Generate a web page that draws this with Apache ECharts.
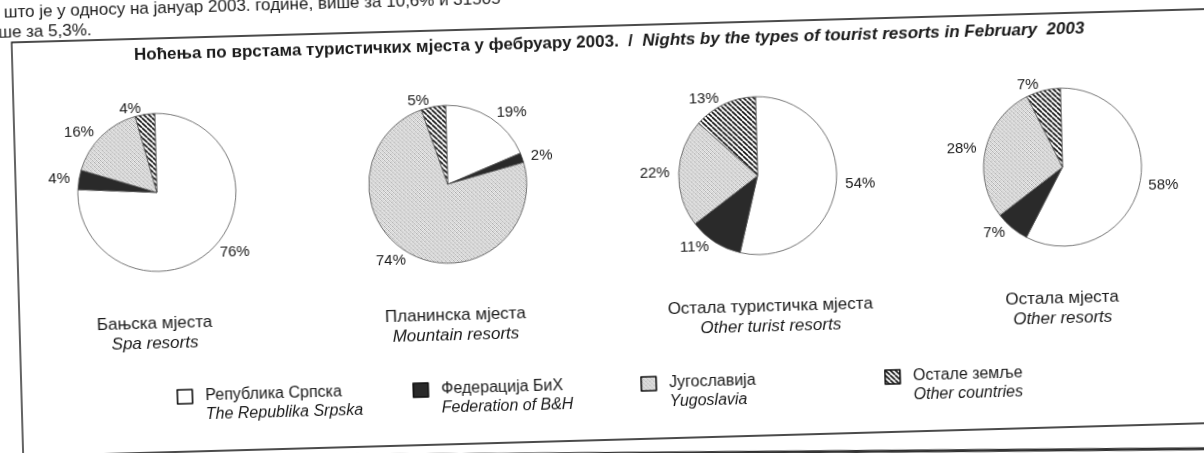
<!DOCTYPE html>
<html>
<head>
<meta charset="utf-8">
<title>Ноћења по врстама туристичких мјеста у фебруару 2003.</title>
<script src="https://cdn.jsdelivr.net/npm/echarts@6/dist/echarts.min.js"></script>
<style>
    html, body { margin: 0; padding: 0; background: #fff; overflow: hidden; width: 1204px; height: 453px; }
    /* the scanned page is slightly tilted, so the whole chart is turned a little */
    #main { position: absolute; left: -20px; top: -20px; width: 1244px; height: 493px; transform: rotate(-1.6deg); }
</style>
</head>
<body>
<div id="main"></div>
<script type="text/javascript">

    // resort types (one pie each)
    var resortsCyr = ['Бањска мјеста', 'Планинска мјеста', 'Остала туристичка мјеста', 'Остала мјеста'];
    var resortsEng = ['Spa resorts', 'Mountain resorts', 'Other turist resorts', 'Other resorts'];

    // origin of guests (slices)
    var originCyr = ['Република Српска', 'Федерација БиХ', 'Југославија', 'Остале земље'];
    var originEng = ['The Republika Srpska', 'Federation of B&H', 'Yugoslavia', 'Other countries'];

    // shares in %, same order as originCyr
    var spaValues = [76, 4, 16, 4];
    var mountainValues = [19, 2, 74, 5];
    var otherTouristValues = [54, 11, 22, 13];
    var otherValues = [58, 7, 28, 7];

    var allValues = [spaValues, mountainValues, otherTouristValues, otherValues];

    // layout (container pixels)
    var pieX = [178, 469, 779, 1084];
    var pieY = 200;
    var capX = [172, 473, 788, 1080];
    var legendX = [192, 428, 656, 900];

    var font = "'Liberation Sans', Arial, sans-serif";
    var ink = '#1a1a1a';

    function hatchPattern() {
        var c = document.createElement('canvas');
        c.width = 5; c.height = 5;
        var g = c.getContext('2d');
        g.fillStyle = '#fff';
        g.fillRect(0, 0, 5, 5);
        g.strokeStyle = '#111';
        g.lineWidth = 1.6;
        for (var k = -5; k <= 5; k += 5) {
            g.beginPath();
            g.moveTo(k, 0);
            g.lineTo(k + 5, 5);
            g.stroke();
        }
        return { image: c, repeat: 'repeat' };
    }

    function stipplePattern() {
        var tone = [164, 228, 208, 240, 230, 184, 238, 212, 212, 240, 174, 230, 238, 202, 230, 190];
        var c = document.createElement('canvas');
        c.width = 4; c.height = 4;
        var g = c.getContext('2d');
        var img = g.createImageData(4, 4);
        for (var i = 0; i < 16; i++) {
            img.data[i * 4] = img.data[i * 4 + 1] = img.data[i * 4 + 2] = tone[i];
            img.data[i * 4 + 3] = 255;
        }
        g.putImageData(img, 0, 0);
        return { image: c, repeat: 'repeat' };
    }

    var sliceColors = ['#ffffff', '#2a2a2a', stipplePattern(), hatchPattern()];

    function pieSeries(values, cx) {
        return {
            type: 'pie',
            center: [cx, pieY],
            radius: 79,
            startAngle: 90,
            clockwise: true,
            avoidLabelOverlap: false,
            silent: true,
            animation: false,
            data: values.map(function (v, i) {
                return { name: originCyr[i], value: v, itemStyle: { color: sliceColors[i] } };
            }),
            itemStyle: { borderColor: '#555', borderWidth: 0.8 },
            label: {
                show: true, position: 'outside', formatter: '{c}%',
                color: ink, fontSize: 15, fontFamily: font, distanceToLabelLine: 3
            },
            labelLine: { show: false, length: 6, length2: 0 },
            emphasis: { disabled: true }
        };
    }

    var titles = [{
        text: '{a|Ноћења по врстама туристичких мјеста у фебруару 2003.}{a|  /  }{c|Nights by the types of tourist resorts in February  2003}',
        left: 159, top: 54, padding: 0,
        textStyle: {
            rich: {
                a: { fontSize: 17, fontWeight: 'bold', color: ink, fontFamily: font },
                c: { fontSize: 17, fontWeight: 'bold', fontStyle: 'italic', color: ink, fontFamily: font }
            }
        }
    }];
    for (var i = 0; i < resortsCyr.length; i++) {
        titles.push({
            text: resortsCyr[i], subtext: resortsEng[i],
            left: capX[i], top: 322, textAlign: 'center', padding: 0, itemGap: 2,
            textStyle: { fontSize: 17, fontWeight: 'normal', lineHeight: 18, color: ink, fontFamily: font },
            subtextStyle: { fontSize: 17, fontStyle: 'italic', lineHeight: 18, color: ink, fontFamily: font }
        });
    }

    var legends = originCyr.map(function (name, i) {
        return {
            data: [name], left: legendX[i], top: 397, padding: 0,
            itemWidth: 15, itemHeight: 14, icon: 'rect', selectedMode: false,
            itemStyle: { borderColor: '#111', borderWidth: 1.6 },
            formatter: function () { return '{a|' + originCyr[i] + '}\n{b|' + originEng[i] + '}'; },
            textStyle: {
                padding: [19, 0, 0, 8],
                rich: {
                    a: { fontSize: 16, lineHeight: 19, color: ink, fontFamily: font },
                    b: { fontSize: 16, lineHeight: 19, fontStyle: 'italic', color: ink, fontFamily: font }
                }
            }
        };
    });

    var chart = echarts.init(document.getElementById('main'));

    var option = {
        backgroundColor: '#fff',
        animation: false,
        textStyle: { fontFamily: font },
        title: titles,
        legend: legends,
        graphic: [
            { type: 'text', style: { text: 'што је у односу на јануар 2003. године, више за 10,6% и 31505', x: 30, y: 16, fontSize: 17, fontFamily: font, fill: ink, verticalAlign: 'middle' } },
            { type: 'text', style: { text: 'ше за 5,3%.', x: 24, y: 36, fontSize: 17, fontFamily: font, fill: ink, verticalAlign: 'middle' } },
            { type: 'rect', shape: { x: 37, y: 46, width: 1205, height: 414 }, style: { fill: 'none', stroke: '#111', lineWidth: 1.3 } },
            { type: 'line', shape: { x1: 50, y1: 462, x2: 1250, y2: 486 }, style: { stroke: '#333', lineWidth: 3 } }
        ],
        series: allValues.map(function (vals, i) { return pieSeries(vals, pieX[i]); })
    };

    chart.setOption(option);

</script>
</body>
</html>
